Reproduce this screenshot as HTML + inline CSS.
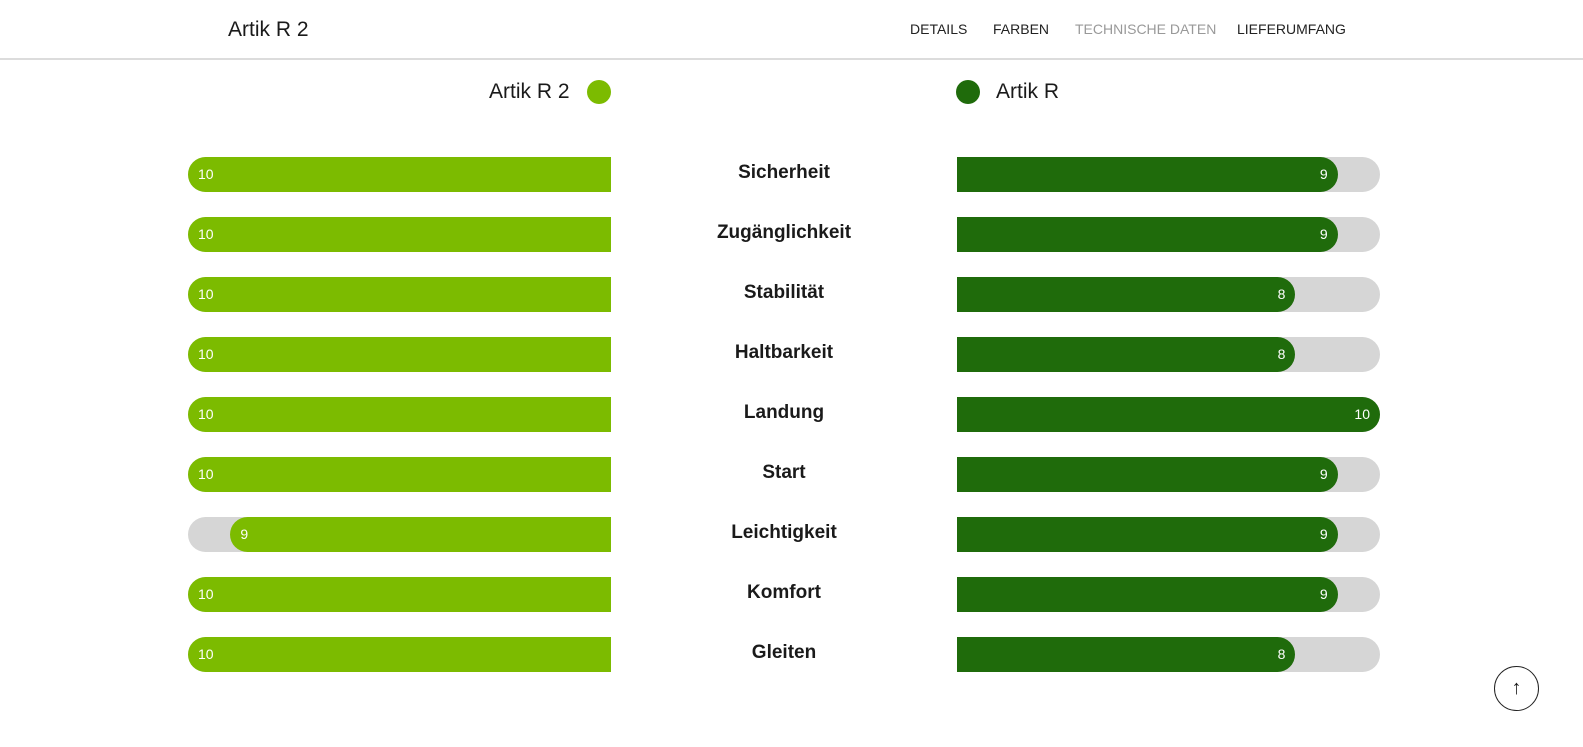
<!DOCTYPE html>
<html><head><meta charset="utf-8"><style>
*{margin:0;padding:0;box-sizing:border-box}
body{width:1583px;height:747px;background:#fff;font-family:"Liberation Sans",sans-serif;position:relative;overflow:hidden;color:#1a1a1a}
.hdr{position:absolute;left:0;top:0;width:1583px;height:60px;border-bottom:2px solid #dcdcdc}
.title{position:absolute;left:228px;top:18px;font-size:21px}
.nav{position:absolute;top:21px;font-size:14px;color:#222}
.bar{position:absolute;height:35px;width:423px}
.bg{background:#d6d6d6}
.l .bg{border-radius:18px 0 0 18px}
.r .bg{border-radius:0 18px 18px 0}
.fill{position:absolute;top:0;height:35px;color:#fff;font-size:14px;line-height:35px}
.l .fill{right:0;background:#7cbb00;border-radius:18px 0 0 18px;padding-left:10px}
.r .fill{left:0;background:#1f6b0b;border-radius:0 18px 18px 0;text-align:right;padding-right:10px}
.lab{position:absolute;left:611px;width:346px;text-align:center;font-size:19px;font-weight:bold;line-height:35px}
.dot{position:absolute;width:24px;height:24px;border-radius:50%;top:80px}
.leg{position:absolute;top:80px;font-size:21px}
</style></head><body>
<div class="hdr"></div>
<div class="title">Artik R 2</div>
<div class="nav" style="left:910px">DETAILS</div>
<div class="nav" style="left:993px">FARBEN</div>
<div class="nav" style="left:1075px;color:#999">TECHNISCHE DATEN</div>
<div class="nav" style="left:1237px">LIEFERUMFANG</div>
<div class="leg" style="left:489px">Artik R 2</div>
<div class="dot" style="left:587px;background:#7cbb00"></div>
<div class="dot" style="left:956px;background:#1f6b0b"></div>
<div class="leg" style="left:996px">Artik R</div>
<div id="rows"></div>
<div style="position:absolute;left:1494px;top:666px;width:45px;height:45px;border:1.5px solid #222;border-radius:50%;text-align:center;line-height:43px;font-size:20px">↑</div>
<script>
var d=[["Sicherheit",10,9],["Zugänglichkeit",10,9],["Stabilität",10,8],["Haltbarkeit",10,8],["Landung",10,10],["Start",10,9],["Leichtigkeit",9,9],["Komfort",10,9],["Gleiten",10,8]];
var h="";
d.forEach(function(r,i){var t=157+60*i;
h+='<div class="bar l" style="left:188px;top:'+t+'px"><div class="bar bg" style="left:0;top:0"></div><div class="fill" style="width:'+(r[1]*42.3)+'px">'+r[1]+'</div></div>';
h+='<div class="lab" style="top:'+(t-2)+'px">'+r[0]+'</div>';
h+='<div class="bar r" style="left:957px;top:'+t+'px"><div class="bar bg" style="left:0;top:0"></div><div class="fill" style="width:'+(r[2]*42.3)+'px">'+r[2]+'</div></div>';});
document.getElementById("rows").innerHTML=h;
</script>
</body></html>
